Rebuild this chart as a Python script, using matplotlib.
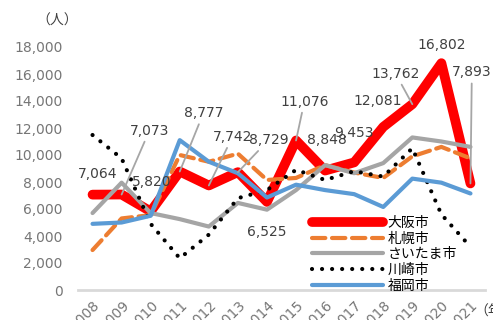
import numpy as np
import matplotlib.pyplot as plt

plt.rcParams['font.family'] = ['DejaVu Sans', 'Noto Sans CJK JP']

years = ['2008', '2009', '2010', '2011', '2012', '2013', '2014',
         '2015', '2016', '2017', '2018', '2019', '2020', '2021']
osaka = [7064, 7073, 5820, 8777, 7742, 8729, 6525, 11076, 8848, 9453, 12081, 13762, 16802, 7893]
sapporo = [2960, 5300, 5550, 10000, 9500, 10100, 8150, 8300, 9250, 8700, 8300, 9900, 10600, 9750]
saitama = [5700, 7950, 5700, 5250, 4700, 6450, 5950, 7400, 9250, 8650, 9400, 11300, 11000, 10600]
kawasaki = [11480, 9750, 4900, 2350, 4100, 6800, 7400, 8900, 8150, 8800, 8400, 10500, 5600, 3200]
fukuoka = [4900, 5000, 5500, 11100, 9500, 8650, 6850, 7800, 7400, 7100, 6150, 8250, 7950, 7150]

# label offsets (points) for the Osaka values, and whether a leader line is drawn
label_offsets = [(4, 15), (20, 46), (1, 21), (17, 42), (17, 35), (22, 23), (0, -22),
                 (6, 28), (1, 22), (0, 21), (-4, 19), (-12, 22), (0, 13), (1, 80)]
leaders = [False, True, False, True, True, True, False,
           True, False, False, False, True, False, True]

fig = plt.figure(figsize=(4.93, 3.2), dpi=100)
ax = fig.add_axes([78 / 493, 30 / 320, 407 / 493, 243 / 320])

x = np.arange(len(years))
ax.plot(x, osaka, color='#ff0000', lw=7, solid_capstyle='round', solid_joinstyle='round', label='大阪市')
ax.plot(x, sapporo, color='#ed7d31', lw=3, dashes=(3.2, 1.6), dash_capstyle='round', label='札幌市')
ax.plot(x, saitama, color='#a5a5a5', lw=3, solid_capstyle='round', label='さいたま市')
ax.plot(x, kawasaki, color='black', lw=3, linestyle=(0, (0.01, 2.4)), dash_capstyle='round', label='川崎市')
ax.plot(x, fukuoka, color='#5b9bd5', lw=3, solid_capstyle='round', label='福岡市')

for i, v in enumerate(osaka):
    dx, dy = label_offsets[i]
    arrow = dict(arrowstyle='-', color='#a6a6a6', lw=1.3, shrinkA=1, shrinkB=0) if leaders[i] else None
    ax.annotate(f'{v:,}', xy=(i, v), xytext=(dx, dy), textcoords='offset points',
                ha='center', va='center', fontsize=10, color='#404040', arrowprops=arrow)

ax.set_xlim(-0.5, len(years) - 0.5)
ax.set_ylim(0, 18000)
ax.set_yticks(np.arange(0, 18001, 2000))
ax.set_yticklabels([f'{t:,}' for t in range(0, 18001, 2000)])
ax.set_xticks(x)
ax.set_xticklabels(years, rotation=45, ha='right', rotation_mode='anchor')
ax.tick_params(axis='y', length=0, pad=11, labelsize=10, labelcolor='#767676')
ax.tick_params(axis='x', length=0, pad=6, labelsize=10, labelcolor='#767676')

for side in ['top', 'right', 'left']:
    ax.spines[side].set_visible(False)
ax.spines['bottom'].set_color('#d9d9d9')
ax.spines['bottom'].set_linewidth(2)

ax.legend(loc='upper left', bbox_to_anchor=(312 / 493, (320 - 216) / 320),
          bbox_transform=fig.transFigure, frameon=False, fontsize=10,
          handlelength=5.1, handletextpad=0.35, labelspacing=0.12,
          borderpad=0, borderaxespad=0)

fig.text(57 / 493, 1 - 21 / 320, '（人）', ha='center', va='center', fontsize=10, color='#404040')
fig.text(474 / 493, 1 - 312 / 320, '（年）', ha='left', va='center', fontsize=10, color='#404040')

fig.savefig('out.png', dpi=100)
